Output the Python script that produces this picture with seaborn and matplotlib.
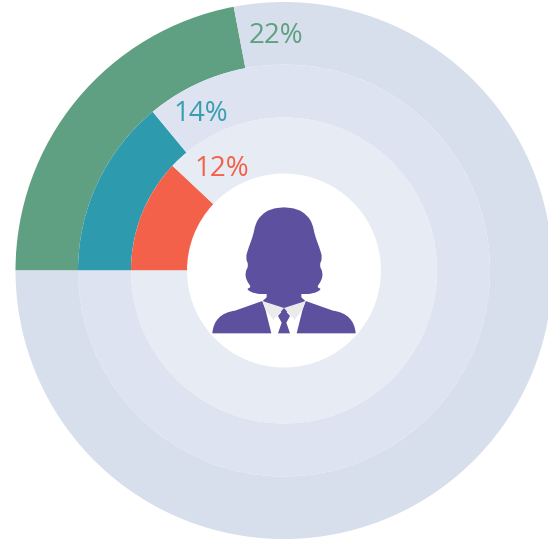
import matplotlib
matplotlib.use("Agg")
import matplotlib.pyplot as plt
from matplotlib.path import Path
from matplotlib.patches import PathPatch, Polygon
import numpy as np
import seaborn as sns

# Data
labels = ["22%", "14%", "12%"]
values = [22, 14, 12]
colors = ["#5FA082", "#2E9AAE", "#F4614A"]
track_colors = ["#D8DFEC", "#DDE3F0", "#E7EBF4"]
text_colors = ["#5FA082", "#3A9DB0", "#F4614A"]
label_xy = [(248.5, 43), (173.5, 121), (194.5, 176)]

W, H = 548, 541
CX, CY = 284, H - 270.5
radii = [268.5, 206, 153]
inners = [206, 153, 97]

sns.set_theme(style="white")
plt.rcParams["font.family"] = ["Open Sans", "DejaVu Sans"]

fig = plt.figure(figsize=(W / 100, H / 100), dpi=100)
ax = fig.add_axes([0, 0, 1, 1])

for v, c, t, r, ri in zip(values, colors, track_colors, radii, inners):
    ax.pie([v, 100 - v], colors=[c, t], startangle=180, counterclock=False,
           center=(CX, CY), radius=r, frame=True,
           wedgeprops=dict(width=r - ri, linewidth=0))

ax.set_xlim(0, W)
ax.set_ylim(0, H)
ax.set_aspect("equal")
ax.axis("off")

for lab, (x, y), c in zip(labels, label_xy, text_colors):
    ax.text(x, H - y, lab, color=c, fontsize=20, ha="left", va="baseline")


# Icon outline, in 3x zoom units relative to (200, 190)
def icon(pts):
    a = np.asarray(pts, float)
    return np.column_stack([200 + a[:, 0] / 3, H - (190 + a[:, 1] / 3)])


def smooth(pts):
    p = icon(pts)
    verts = [(p[0] + p[-1]) / 2]
    codes = [Path.MOVETO]
    n = len(p)
    for i in range(n):
        verts += [p[i], (p[i] + p[(i + 1) % n]) / 2]
        codes += [Path.CURVE3, Path.CURVE3]
    return Path(verts, codes)


PURPLE = "#5C509F"
hair_l = [(252, 52), (212, 56), (182, 76), (166, 102), (160, 135), (146, 172),
          (136, 205), (147, 226), (135, 246), (139, 272), (155, 292), (137, 297),
          (165, 312), (200, 312)]
hair = hair_l + [(504 - x, y) for x, y in reversed(hair_l)]
ax.add_patch(PathPatch(smooth(hair), fc=PURPLE, ec="none"))
ax.add_patch(Polygon(icon([(200, 300), (304, 300), (304, 322), (316, 333), (252, 370),
                           (188, 333), (200, 322)]), fc=PURPLE, ec="none"))

for side in (1, -1):
    def m(pts):
        return [(x, y) if side == 1 else (504 - x, y) for x, y in pts]
    verts = icon(m([(187, 333), (105, 362), (62, 368), (40, 392), (37, 430),
                    (214, 430), (196, 358), (187, 333)]))
    codes = [Path.MOVETO, Path.LINETO, Path.CURVE4, Path.CURVE4, Path.CURVE4,
             Path.LINETO, Path.LINETO, Path.CLOSEPOLY]
    ax.add_patch(PathPatch(Path(verts, codes), fc=PURPLE, ec="none"))
    ax.add_patch(Polygon(icon(m([(187, 333), (252, 354), (220, 390), (196, 358)])),
                         fc="#EBEBEB", ec="none", zorder=3))

ax.add_patch(Polygon(icon([(252, 357), (270, 378), (259, 398), (270, 430), (234, 430),
                           (245, 398), (234, 378)]), fc=PURPLE, ec="none", zorder=4))

fig.savefig("out.png", dpi=100, facecolor="white")
